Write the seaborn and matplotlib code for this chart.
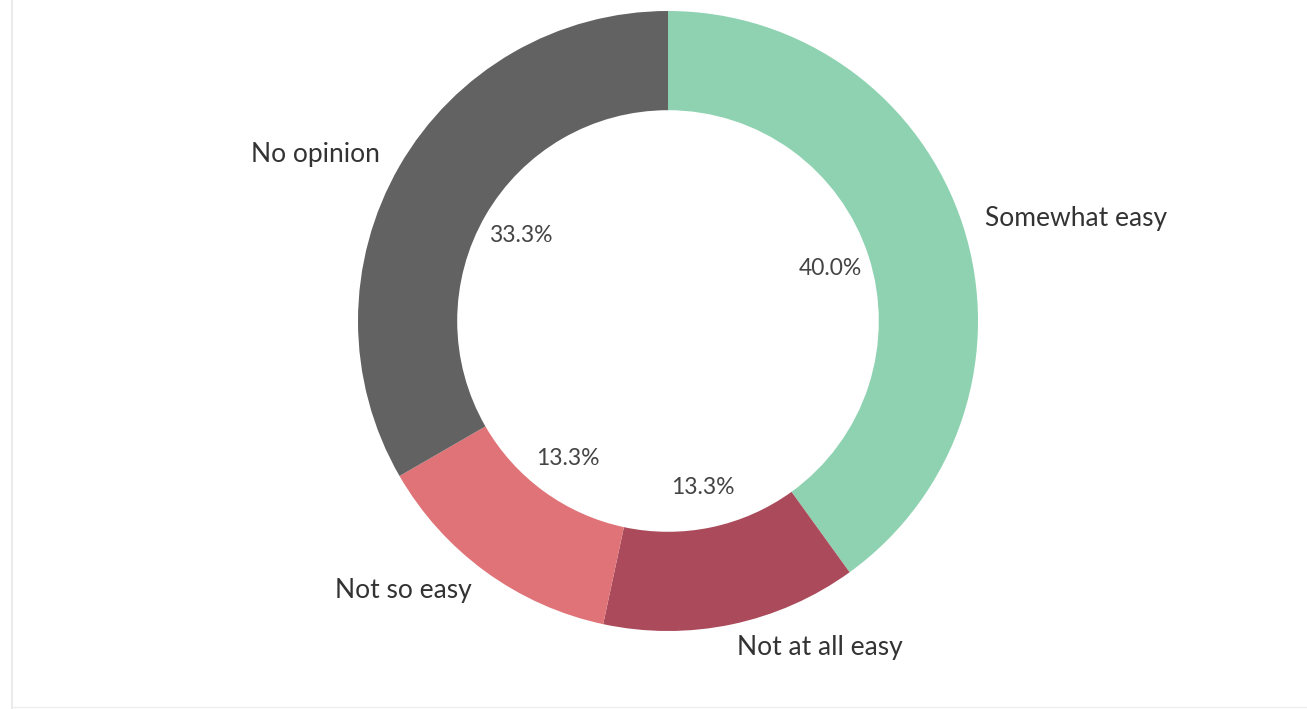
import matplotlib
matplotlib.use("Agg")
import matplotlib.pyplot as plt
import seaborn as sns
from matplotlib.lines import Line2D

categories = ["Somewhat easy", "Not at all easy", "Not so easy", "No opinion"]
values = [40.0, 13.3, 13.3, 33.3]
colors = ["#8ed2b1", "#aa4a5a", "#e07377", "#626262"]

sns.set_theme(style="white")
plt.rcParams['font.family'] = ['Lato', 'DejaVu Sans']

W, H = 1307, 709
fig = plt.figure(figsize=(W / 100, H / 100), dpi=100)
fig.patch.set_facecolor("white")
ax = fig.add_axes([0, 0, 1, 1])

R = 310.0
cx, cy = 668.0, 321.0

wedges, texts, autotexts = ax.pie(
    values,
    labels=categories,
    colors=colors,
    startangle=90,
    counterclock=False,
    radius=1.0,
    labeldistance=1.075,
    pctdistance=0.55,
    autopct=lambda p: f"{p:.1f}%",
    wedgeprops=dict(width=0.32, linewidth=0),
    textprops=dict(color="#333333", fontsize=19),
)
for t in autotexts:
    t.set_fontsize(16.5)
    t.set_color("#444444")

ax.set_xlim(-cx / R, (W - cx) / R)
ax.set_ylim(-(H - cy) / R, cy / R)
ax.set_aspect("equal", adjustable="datalim")
ax.axis("off")

# faint frame of the original panel
fig.add_artist(Line2D([12 / W, 12 / W], [0.0, 1.0], color="#e6e6e6", lw=1.2, transform=fig.transFigure))
fig.add_artist(Line2D([12 / W, 1.0], [2 / H, 2 / H], color="#eeeeee", lw=1.0, transform=fig.transFigure))

fig.savefig("out.png", dpi=100, facecolor="white")
